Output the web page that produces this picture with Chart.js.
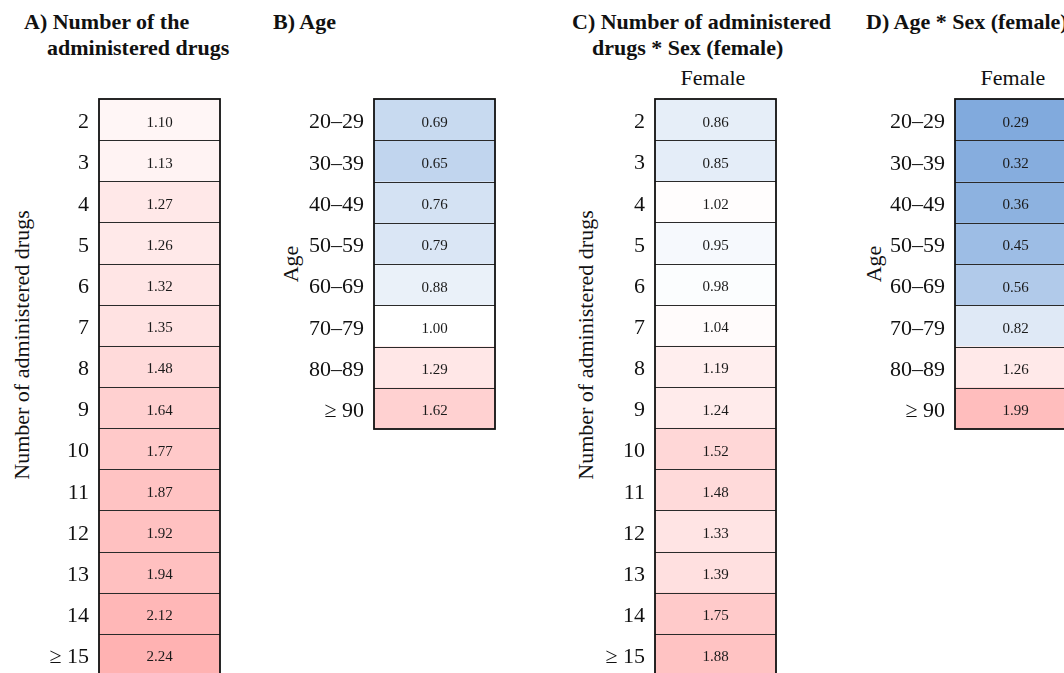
<!DOCTYPE html>
<html>
<head>
<meta charset="utf-8">
<script src="https://cdn.jsdelivr.net/npm/chart.js@4/dist/chart.umd.min.js"></script>
<style>
  html, body { margin:0; padding:0; background:#fff; width:1064px; height:673px; overflow:hidden; }
  body { position:relative; font-family:"Liberation Serif", "Times New Roman", serif; color:#111; }
  .box { position:absolute; }
  .t { position:absolute; font-weight:bold; font-size:22px; line-height:25px; white-space:pre; }
  .ax { position:absolute; font-size:22px; line-height:24px; white-space:nowrap; transform:translate(-50%,-50%) rotate(-90deg); }
  .hd { position:absolute; font-size:22px; line-height:24px; white-space:nowrap; transform:translate(-50%,-50%); }
</style>
</head>
<body>
<div class="t" style="left:24px;top:9px;">A) Number of the</div>
<div class="t" style="left:47px;top:35px;">administered drugs</div>
<div class="t" style="left:273px;top:9px;">B) Age</div>
<div class="t" style="left:572px;top:9px;">C) Number of administered</div>
<div class="t" style="left:592px;top:35px;">drugs * Sex (female)</div>
<div class="t" style="left:866px;top:9px;">D) Age * Sex (female)</div>

<div class="ax" style="left:22px;top:345px;">Number of administered drugs</div>
<div class="ax" style="left:291px;top:264px;">Age</div>
<div class="ax" style="left:586px;top:345px;">Number of administered drugs</div>
<div class="ax" style="left:874px;top:264px;">Age</div>

<div class="hd" style="left:713px;top:78px;">Female</div>
<div class="hd" style="left:1013px;top:78px;">Female</div>

<div class="box" style="left:0px;top:0px;width:240px;height:700px;"><canvas id="cA"></canvas></div>
<div class="box" style="left:260px;top:0px;width:260px;height:460px;"><canvas id="cB"></canvas></div>
<div class="box" style="left:540px;top:0px;width:260px;height:700px;"><canvas id="cC"></canvas></div>
<div class="box" style="left:840px;top:0px;width:260px;height:460px;"><canvas id="cD"></canvas></div>

<script>
// ---- data ----
const drugCategories = ['2','3','4','5','6','7','8','9','10','11','12','13','14','\u2265 15'];
const ageCategories = ['20\u201329','30\u201339','40\u201349','50\u201359','60\u201369','70\u201379','80\u201389','\u2265 90'];
const drugsValues = [1.10,1.13,1.27,1.26,1.32,1.35,1.48,1.64,1.77,1.87,1.92,1.94,2.12,2.24];
const ageValues = [0.69,0.65,0.76,0.79,0.88,1.00,1.29,1.62];
const drugsFemaleValues = [0.86,0.85,1.02,0.95,0.98,1.04,1.19,1.24,1.52,1.48,1.33,1.39,1.75,1.88];
const ageFemaleValues = [0.29,0.32,0.36,0.45,0.56,0.82,1.26,1.99];
const cellSpan = [0, 1];

// ---- style ----
function cellColor(v) {
  if (v >= 1) {
    const d = 66 * Math.log2(v);
    const c = Math.round(255 - d);
    return `rgb(255,${c},${c})`;
  }
  const t = 1 - v;
  return `rgb(${Math.round(255 - 178 * t)},${Math.round(255 - 120 * t)},${Math.round(255 - 48 * t)})`;
}

const cellPlugin = {
  id: 'cells',
  afterDatasetsDraw(chart) {
    const ctx = chart.ctx;
    const meta = chart.getDatasetMeta(0);
    const vals = chart.data.datasets[0].cellValues;
    const area = chart.chartArea;
    ctx.save();
    ctx.font = '15px "Liberation Serif", "Times New Roman", serif';
    ctx.fillStyle = '#1a1a1a';
    ctx.textAlign = 'center';
    ctx.textBaseline = 'middle';
    ctx.strokeStyle = '#2a2a2a';
    ctx.lineWidth = 1;
    meta.data.forEach((bar, i) => {
      const p = bar.getProps(['x', 'y', 'base', 'height'], true);
      const top = Math.round(p.y - p.height / 2) + 0.5;
      if (i > 0) {
        ctx.beginPath();
        ctx.moveTo(area.left, top);
        ctx.lineTo(area.right, top);
        ctx.stroke();
      }
      ctx.fillText(vals[i].toFixed(2), (p.x + p.base) / 2, p.y + 3);
    });
    ctx.lineWidth = 1.8;
    ctx.strokeStyle = '#111';
    ctx.strokeRect(area.left, area.top, area.right - area.left, area.bottom - area.top);
    ctx.restore();
  }
};

function makeHeat(id, cats, values, axisWidth, pad) {
  new Chart(document.getElementById(id), {
    type: 'bar',
    data: {
      labels: cats,
      datasets: [{
        data: cats.map(() => cellSpan),
        cellValues: values,
        backgroundColor: values.map(cellColor),
        borderWidth: 0,
        barPercentage: 1,
        categoryPercentage: 1
      }]
    },
    options: {
      indexAxis: 'y',
      responsive: true,
      maintainAspectRatio: false,
      animation: false,
      layout: { padding: pad },
      plugins: { legend: { display: false }, tooltip: { enabled: false } },
      scales: {
        x: { display: false, min: 0, max: 1 },
        y: {
          grid: { display: false, drawTicks: false },
          border: { display: false },
          ticks: { color: '#111', padding: 10, labelOffset: 3, font: { family: '"Liberation Serif", "Times New Roman", serif', size: 22 } },
          afterFit(scale) { scale.width = axisWidth; }
        }
      }
    },
    plugins: [cellPlugin]
  });
}

makeHeat('cA', drugCategories, drugsValues, 99, { top: 99, bottom: 25, left: 0, right: 20 });
makeHeat('cB', ageCategories, ageValues, 114, { top: 99, bottom: 31, left: 0, right: 25 });
makeHeat('cC', drugCategories, drugsFemaleValues, 115, { top: 99, bottom: 25, left: 0, right: 24 });
makeHeat('cD', ageCategories, ageFemaleValues, 115, { top: 99, bottom: 31, left: 0, right: 24 });
</script>
</body>
</html>
